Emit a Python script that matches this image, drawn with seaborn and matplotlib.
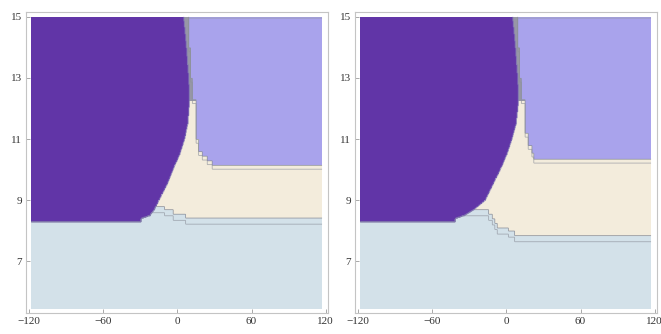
import numpy as np
import matplotlib
matplotlib.use("Agg")
import matplotlib.pyplot as plt
from matplotlib.colors import ListedColormap
import seaborn as sns

# region colours: light blue, beige, light purple, dark purple, grey seam
region_colors = ["#d3e1e9", "#f3ecdc", "#a9a3ec", "#6135a7", "#9797a6"]

# dark purple right boundary, x as a function of y (both panels share y knots)
dp_y = [8.30, 8.40, 8.50, 8.70, 9.0, 9.5, 10.0, 10.5, 11.0, 11.5, 12.3, 13.0, 14.0, 15.0]
dp_x_left = [-29, -29, -22, -18.5, -14.7, -8.5, -3.5, 2.0, 5.9, 8.5, 10.0, 9.3, 7.5, 5.2]
dp_x_right = [-41, -41, -34, -26, -16.9, -11, -4.8, 0.5, 4.5, 8.0, 10.0, 9.3, 7.5, 5.2]
dp_bottom = 8.30

# light purple left boundary (stepped): y band edges and x start within each band
lp_edges_left = [10.15, 10.30, 10.45, 10.60, 11.0, 12.3, 13.0, 14.0, 15.1]
lp_x_left = [28, 24, 20, 17, 15.2, 12, 10.5, 9.3]
lp_edges_right = [10.35, 10.55, 10.80, 11.2, 12.3, 13.0, 14.0, 15.1]
lp_x_right = [22, 20.6, 17.9, 15.2, 12, 10.5, 9.3]

# beige bottom (stepped): x band edges and y of the beige floor within each band
lb_edges_left = [-125, -10, -3, 7, 125]
lb_y_left = [8.80, 8.70, 8.55, 8.42]
lb_edges_right = [-125, -14, -11, -9, -7, 2, 7, 125]
lb_y_right = [8.70, 8.55, 8.40, 8.25, 8.10, 7.98, 7.85]

spike_top = 12.25

x_ticks = [-120, -60, 0, 60, 120]
x_ticklabels = ["\u2212120", "\u221260", "0", "60", "120"]
y_ticks = [7, 9, 11, 13, 15]


def step_lookup(v, edges, vals, outside):
    idx = np.searchsorted(edges, v, side="right") - 1
    ok = (idx >= 0) & (idx < len(vals))
    out = np.full(v.shape, outside, dtype=float)
    out[ok] = np.asarray(vals)[idx[ok]]
    return out


def class_grid(X, Y, dp_x, lp_edges, lp_x, lb_edges, lb_y, lp_shift=0.0, lb_shift=0.0):
    grid = np.ones(X.shape)  # beige
    lb_top = step_lookup(X, lb_edges, lb_y, 8.8) + lb_shift
    grid[Y < lb_top] = 0
    lpx = step_lookup(Y, np.array(lp_edges) + lp_shift, lp_x, np.inf)
    grid[X > lpx] = 2
    dpx = np.interp(Y, dp_y, dp_x)
    seam = (Y > spike_top) & (X >= dpx) & (X <= lpx)
    grid[seam] = 4
    grid[(Y >= dp_bottom) & (X < dpx)] = 3
    return grid


xs = np.arange(-118, 117.01, 0.5)
ys = np.arange(5.45, 15.001, 0.025)
X, Y = np.meshgrid(xs, ys)

sns.set_theme(style="white")
plt.rcParams["font.family"] = ["Liberation Serif", "DejaVu Serif"]

fig = plt.figure(figsize=(6.61, 3.34), dpi=100)
cmap = ListedColormap(sns.color_palette(region_colors))

panels = [
    (26 / 661, dp_x_left, lp_edges_left, lp_x_left, lb_edges_left, lb_y_left),
    (355 / 661, dp_x_right, lp_edges_right, lp_x_right, lb_edges_right, lb_y_right),
]

for left, dpx, lpe, lpx, lbe, lby in panels:
    ax = fig.add_axes([left, 21.5 / 334, 302 / 661, 300.5 / 334])
    grid = class_grid(X, Y, dpx, lpe, lpx, lbe, lby)
    ax.pcolormesh(xs, ys, grid, cmap=cmap, vmin=-0.5, vmax=4.5, shading="auto")

    # region outlines, doubled like the original renderer
    ghost = class_grid(X, Y, dpx, lpe, lpx, lbe, lby, lp_shift=-0.14, lb_shift=-0.2)
    for g, a in [(grid, 0.9), (ghost, 0.7)]:
        for k in [0, 2]:
            ax.contour(xs, ys, (g == k).astype(float), levels=[0.5],
                       colors="#8e929c", linewidths=0.6, alpha=a)
    ax.contour(xs, ys, (grid == 3).astype(float), levels=[0.5],
               colors="#7d6fb5", linewidths=0.8, alpha=0.8)

    ax.set_xlim(-122.2, 121.8)
    ax.set_ylim(5.32, 15.16)
    ax.set_xticks(x_ticks)
    ax.set_xticklabels(x_ticklabels)
    ax.set_yticks(y_ticks)
    ax.tick_params(direction="in", length=3, width=0.6, color="#9a9a9a",
                   labelsize=8, labelcolor="#333333", pad=3,
                   bottom=True, left=True)
    for s in ax.spines.values():
        s.set_color("#c4c4c4")
        s.set_linewidth(0.8)

fig.savefig("out.png", dpi=100)
